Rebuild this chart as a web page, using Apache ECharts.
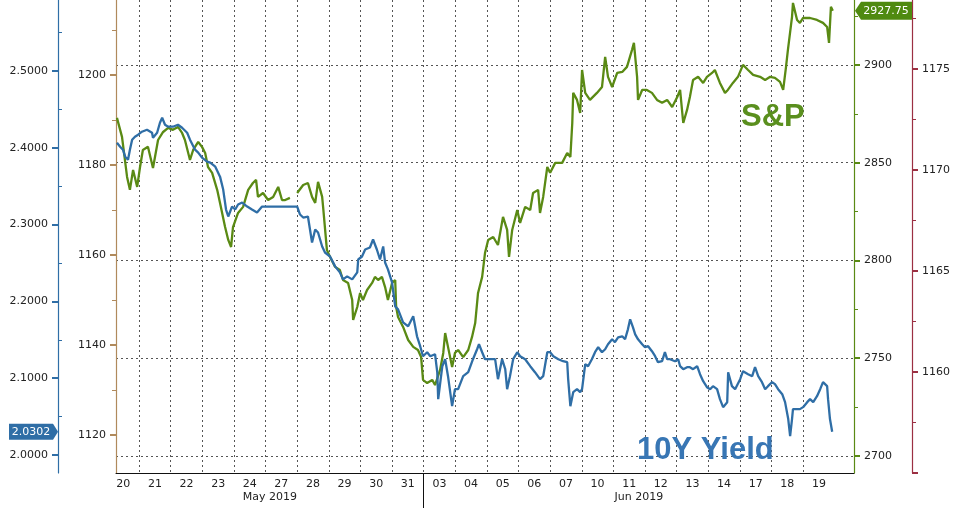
<!DOCTYPE html>
<html>
<head>
<meta charset="utf-8">
<script src="https://cdn.jsdelivr.net/npm/echarts@6/dist/echarts.min.js"></script>
<style>html,body{margin:0;padding:0;background:#fff}#c{width:976px;height:513px}</style>
</head>
<body>
<div id="c"></div>
<script>
// ---- data ----
const days = ['20','21','22','23','24','27','28','29','30','31','03','04','05','06','07','10','11','12','13','14','17','18','19'];
const months = ['May 2019', 'Jun 2019'];
const monthBreakDay = 10; // index of first June trading day
// time in trading days since session start of 20 May (null value = market closed)
const spxTime = [0.30,0.46,0.62,0.71,0.81,0.94,1.03,1.12,1.28,1.44,1.60,1.76,1.92,2.07,2.23,2.36,2.45,2.61,2.71,2.87,2.99,3.09,3.18,3.31,3.47,3.56,3.72,3.82,3.91,3.97,4.13,4.29,4.45,4.60,4.70,4.76,4.92,5.08,5.24,5.40,5.52,5.62,5.77,5.88,
  6.00,6.19,6.34,6.47,6.57,6.66,6.79,6.82,6.94,7.04,7.20,7.35,7.45,7.61,7.74,7.77,7.90,7.99,8.08,8.21,8.37,8.46,8.56,8.68,8.78,8.87,9.00,9.10,9.13,9.19,9.35,9.51,9.67,9.82,9.92,9.98,
  10.11,10.27,10.36,10.52,10.62,10.68,10.77,10.90,10.99,11.09,11.25,11.41,11.53,11.63,11.72,11.85,11.94,12.04,12.20,12.35,12.51,12.64,12.70,12.80,12.96,13.05,13.21,13.37,13.46,13.62,13.68,13.78,13.91,14.00,
  14.16,14.38,14.54,14.64,14.70,14.73,14.85,14.95,15.01,15.11,15.26,15.48,15.64,15.74,15.83,15.96,16.12,16.28,16.43,16.59,16.65,16.75,16.78,16.91,17.06,17.22,17.38,17.54,17.70,17.86,18.02,18.11,18.21,18.33,18.42,
  18.52,18.68,18.84,18.96,19.12,19.21,19.37,19.53,19.62,19.78,19.94,20.10,20.26,20.42,20.64,20.80,20.96,21.11,21.27,21.37,21.46,21.52,21.65,21.68,21.81,21.90,22.00,22.22,22.44,22.63,22.76,22.82,22.88,22.94];
const spxValue = [2872.9,2863.2,2842.7,2836.1,2846.3,2837.6,2847.8,2856.5,2858.1,2847.3,2861.6,2865.7,2867.8,2866.8,2868.3,2865.2,2861.6,2851.4,2856.5,2860.6,2858.1,2855.0,2847.8,2844.8,2836.1,2829.4,2817.1,2810.5,2806.9,2817.1,2824.3,2827.4,2836.1,2839.6,2841.2,2832.5,2834.5,2830.9,2832.5,2837.6,2830.9,2830.9,2832.0,null,
  2834.5,2838.6,2839.6,2832.5,2829.4,2840.2,2832.5,2827.4,2805.4,2801.8,2796.7,2795.1,2790.0,2788.5,2779.8,2769.6,2776.2,2783.4,2779.8,2784.9,2788.5,2791.6,2790.0,2791.6,2786.4,2779.8,2788.5,2790.0,2776.2,2771.1,2766.0,2759.3,2755.8,2754.2,2750.6,2738.9,
  2737.3,2738.9,2736.3,2744.0,2752.7,2762.9,2755.8,2745.5,2752.7,2754.2,2750.6,2754.2,2760.9,2768.0,2783.4,2791.6,2803.8,2810.5,2812.0,2807.9,2822.3,2815.6,2801.8,2815.6,2825.8,2819.2,2827.4,2825.8,2834.5,2836.1,2824.3,2832.5,2847.8,2844.8,
  2849.9,2849.9,2855.0,2852.9,2870.3,2885.7,2882.1,2875.4,2897.4,2885.7,2882.1,2885.7,2888.7,2904.1,2893.9,2888.7,2895.9,2896.4,2899.0,2907.7,2911.3,2893.9,2882.1,2887.2,2887.2,2885.7,2882.1,2880.6,2882.1,2878.5,2883.6,2887.2,2870.3,2877.0,2883.6,
  2892.3,2893.9,2890.8,2893.9,2895.9,2897.4,2890.8,2885.7,2887.2,2890.8,2893.9,2900.0,2897.4,2894.9,2893.9,2892.3,2893.9,2893.4,2891.3,2887.2,2899.0,2907.7,2924.6,2931.7,2923.0,2921.5,2924.0,2924.0,2923.0,2921.5,2919.4,2911.3,2929.7,2927.75];
const yieldTime = [0.30,0.40,0.49,0.56,0.65,0.71,0.78,0.87,0.97,1.09,1.13,1.25,1.41,1.44,1.57,1.66,1.73,1.82,1.92,2.07,2.23,2.36,2.52,2.61,2.77,2.87,2.99,3.15,3.25,3.41,3.56,3.66,3.75,3.82,3.94,4.04,4.13,4.26,4.42,4.57,4.73,4.89,5.05,6.00,
  6.09,6.19,6.34,6.47,6.57,6.66,6.79,6.88,7.04,7.20,7.35,7.45,7.58,7.74,7.90,7.93,8.05,8.15,8.30,8.40,8.52,8.62,8.72,8.78,8.87,9.00,9.10,9.19,9.35,9.51,9.67,9.79,9.89,9.98,
  10.11,10.21,10.36,10.43,10.46,10.59,10.68,10.77,10.90,10.99,11.09,11.25,11.41,11.56,11.69,11.75,11.85,11.94,12.10,12.26,12.35,12.48,12.58,12.64,12.73,12.83,12.96,13.05,13.21,13.37,13.52,13.68,13.78,13.91,14.00,
  14.10,14.26,14.41,14.54,14.57,14.64,14.73,14.85,14.95,15.01,15.11,15.20,15.32,15.42,15.52,15.64,15.74,15.83,15.96,16.05,16.15,16.28,16.37,16.46,16.53,16.62,16.69,16.78,16.91,17.00,17.10,17.22,17.32,17.41,17.54,
  17.63,17.70,17.79,17.95,18.05,18.11,18.21,18.33,18.42,18.52,18.65,18.74,18.84,18.96,19.06,19.15,19.28,19.37,19.47,19.60,19.63,19.75,19.85,20.01,20.10,20.26,20.39,20.48,20.58,20.70,20.80,20.89,21.02,21.11,21.21,
  21.34,21.43,21.53,21.59,21.65,21.68,21.81,21.90,22.00,22.13,22.22,22.32,22.44,22.54,22.63,22.76,22.79,22.85,22.92];
const yieldValue = [2.4065,2.4013,2.3974,2.3883,2.3844,2.3974,2.4104,2.4143,2.4169,2.4208,2.4195,2.4234,2.4195,2.4130,2.4195,2.4325,2.4390,2.4299,2.4273,2.4273,2.4299,2.4260,2.4195,2.4104,2.3974,2.3935,2.3870,2.3818,2.3805,2.3753,2.3623,2.3455,2.3195,2.3104,2.3234,2.3195,2.3260,2.3286,2.3234,2.3195,2.3156,2.3234,2.3234,2.3234,
  2.3130,2.3091,2.3104,2.2766,2.2935,2.2896,2.2714,2.2636,2.2584,2.2455,2.2377,2.2286,2.2325,2.2286,2.2377,2.2545,2.2584,2.2675,2.2701,2.2805,2.2675,2.2545,2.2714,2.2506,2.2416,2.2247,2.1935,2.1896,2.1727,2.1675,2.1805,2.1545,2.1416,2.1286,
  2.1338,2.1286,2.1312,2.1078,2.0727,2.1156,2.1247,2.1026,2.0636,2.0857,2.0857,2.1026,2.1078,2.1247,2.1377,2.1442,2.1338,2.1247,2.1247,2.1247,2.0987,2.1247,2.1117,2.0857,2.1026,2.1247,2.1338,2.1286,2.1247,2.1156,2.1078,2.0987,2.1026,2.1338,2.1338,
  2.1286,2.1247,2.1221,2.1208,2.0987,2.0636,2.0818,2.0857,2.0818,2.0857,2.1182,2.1156,2.1247,2.1338,2.1403,2.1338,2.1377,2.1442,2.1506,2.1468,2.1532,2.1545,2.1506,2.1636,2.1766,2.1662,2.1571,2.1506,2.1442,2.1403,2.1416,2.1351,2.1286,2.1208,2.1221,
  2.1338,2.1247,2.1247,2.1221,2.1247,2.1156,2.1117,2.1143,2.1143,2.1117,2.1156,2.1052,2.0961,2.0883,2.0857,2.0896,2.0857,2.0727,2.0623,2.0688,2.1078,2.0896,2.0857,2.0987,2.1091,2.1052,2.1026,2.1143,2.1026,2.0948,2.0857,2.0896,2.0948,2.0922,2.0857,
  2.0792,2.0688,2.0468,2.0247,2.0468,2.0597,2.0597,2.0597,2.0623,2.0688,2.0727,2.0688,2.0766,2.0857,2.0948,2.0896,2.0727,2.0468,2.0302];
const yieldTicks = [2.0, 2.1, 2.2, 2.3, 2.4, 2.5];
const yieldMinor = [2.05, 2.15, 2.25, 2.35, 2.45, 2.55];
const leftTicks = [1120, 1140, 1160, 1180, 1200];
const leftMinor = [1130, 1150, 1170, 1190, 1210];
const spxTicks = [2700, 2750, 2800, 2850, 2900];
const spxMinor = [2725, 2775, 2825, 2875, 2925];
const rightTicks = [1155, 1160, 1165, 1170, 1175];
const rightMinor = [1157.5, 1162.5, 1167.5, 1172.5, 1177.5];
const seriesNames = ['S&P', '10Y Yield'];

// ---- chart ----
const X_MIN = 0.27, X_MAX = 23.61;
const C_BLUE = '#2f6ea6', C_GREEN = '#5a8a14', C_ORANGE = '#b08a5c', C_RED = '#9b2f42';
const FONT = 'DejaVu Sans';
const chart = echarts.init(document.getElementById('c'), null, {renderer: 'canvas'});
const dayBounds = days.slice(1).map((d, i) => i + 1);
const dayCenters = days.map((d, i) => i + 0.5);

function yAxis(o) {
  return Object.assign({
    type: 'value', scale: true,
    axisLine: {show: true, lineStyle: {color: o.color, width: 1.2}},
    axisTick: {show: true, customValues: o.ticks, length: 6, inside: false, lineStyle: {color: o.color, width: 2}},
    axisLabel: {show: true, customValues: o.labels || o.ticks, color: '#222', fontFamily: FONT, fontSize: 11, margin: 10,
      formatter: o.fmt || (v => String(Math.round(v)))},
    splitLine: {show: false}
  }, o.extra || {});
}
function minorAxis(o) {
  return {
    type: 'value', scale: true, position: o.position, offset: o.offset, min: o.min, max: o.max,
    axisLine: {show: false},
    axisTick: {show: true, customValues: o.ticks, length: 4, inside: o.inside, lineStyle: {color: o.color, width: 1}},
    axisLabel: {show: false}, splitLine: {show: false}
  };
}

const yMin = {blue: 1.9766, left: 1111.6, spx: 2691.3, right: 1155};
const yMax = {blue: 2.5922, left: 1216.7, spx: 2933.2, right: 1178.4};

const option = {
  animation: false,
  backgroundColor: '#fff',
  grid: {left: 116, right: 122, top: 0, bottom: 40, containLabel: false},
  xAxis: [
    {
      type: 'value', min: X_MIN, max: X_MAX,
      axisLine: {show: true, onZero: false, lineStyle: {color: '#111', width: 1}},
      axisTick: {show: false, customValues: dayBounds},
      splitLine: {show: true, lineStyle: {color: '#555', type: [2, 3], width: 1}},
      axisLabel: {customValues: dayCenters, color: '#222', fontFamily: FONT, fontSize: 11, margin: 6,
        formatter: v => days[Math.round(v - 0.5)]}
    },
    {
      type: 'value', min: X_MIN, max: X_MAX, position: 'bottom',
      axisLine: {show: false},
      axisTick: {show: true, customValues: [monthBreakDay], length: 35, lineStyle: {color: '#111', width: 1}},
      splitLine: {show: false},
      axisLabel: {customValues: [(X_MIN + monthBreakDay) / 2, (monthBreakDay + X_MAX) / 2],
        color: '#222', fontFamily: FONT, fontSize: 11, margin: 19,
        formatter: v => v < monthBreakDay ? months[0] : months[1]}
    }
  ],
  yAxis: [
    yAxis({color: C_BLUE, ticks: yieldTicks, fmt: v => v.toFixed(4),
      extra: {position: 'left', offset: 58, min: yMin.blue, max: yMax.blue}}),
    yAxis({color: C_ORANGE, ticks: leftTicks,
      extra: {position: 'left', offset: 0, min: yMin.left, max: yMax.left}}),
    yAxis({color: C_GREEN, ticks: spxTicks,
      extra: {position: 'right', offset: 0, min: yMin.spx, max: yMax.spx,
        splitLine: {show: true, lineStyle: {color: '#555', type: [2, 3], width: 1}}}}),
    yAxis({color: C_RED, ticks: rightTicks, labels: rightTicks.slice(1),
      extra: {position: 'right', offset: 58, min: yMin.right, max: yMax.right}}),
    minorAxis({color: C_BLUE, ticks: yieldMinor, position: 'left', offset: 58, min: yMin.blue, max: yMax.blue, inside: true}),
    minorAxis({color: C_ORANGE, ticks: leftMinor, position: 'left', offset: 0, min: yMin.left, max: yMax.left, inside: false}),
    minorAxis({color: C_GREEN, ticks: spxMinor, position: 'right', offset: 0, min: yMin.spx, max: yMax.spx, inside: false}),
    minorAxis({color: C_RED, ticks: rightMinor, position: 'right', offset: 58, min: yMin.right, max: yMax.right, inside: false})
  ],
  series: [
    {
      name: seriesNames[0], type: 'line', xAxisIndex: 0, yAxisIndex: 2, showSymbol: false, connectNulls: false,
      lineStyle: {color: C_GREEN, width: 2.3}, itemStyle: {color: C_GREEN},
      data: spxTime.map((t, i) => [t, spxValue[i]])
    },
    {
      name: seriesNames[1], type: 'line', xAxisIndex: 0, yAxisIndex: 0, showSymbol: false,
      lineStyle: {color: C_BLUE, width: 2.3}, itemStyle: {color: C_BLUE},
      data: yieldTime.map((t, i) => [t, yieldValue[i]])
    }
  ]
};
chart.setOption(option);

// last-value tags and big series captions
const lastYield = yieldValue[yieldValue.length - 1];
const lastSpx = spxValue[spxValue.length - 1];
const yB = chart.convertToPixel({yAxisIndex: 0}, lastYield);
const yG = chart.convertToPixel({yAxisIndex: 2}, lastSpx);
chart.setOption({
  graphic: [
    {type: 'polygon', shape: {points: [[9, yB - 8], [53, yB - 8], [58, yB], [53, yB + 8], [9, yB + 8]]},
      style: {fill: C_BLUE}, z: 100},
    {type: 'text', x: 31, y: yB, style: {text: lastYield.toFixed(4), fill: '#fff', font: '11px ' + FONT,
      align: 'center', verticalAlign: 'middle'}, z: 101},
    {type: 'polygon', shape: {points: [[855, yG], [861, yG - 9], [912, yG - 9], [912, yG + 9], [861, yG + 9]]},
      style: {fill: '#4f8a10'}, z: 100},
    {type: 'text', x: 886, y: yG, style: {text: lastSpx.toFixed(2), fill: '#fff', font: '11px ' + FONT,
      align: 'center', verticalAlign: 'middle'}, z: 101},
    {type: 'text', x: 741, y: 102, style: {text: seriesNames[0], fill: '#5a8f1e',
      font: 'bold 31px "Liberation Sans", Arial, sans-serif'}, z: 90},
    {type: 'text', x: 637, y: 435, style: {text: seriesNames[1], fill: '#3876b4',
      font: 'bold 31px "Liberation Sans", Arial, sans-serif'}, z: 90}
  ]
});
</script>
</body>
</html>
